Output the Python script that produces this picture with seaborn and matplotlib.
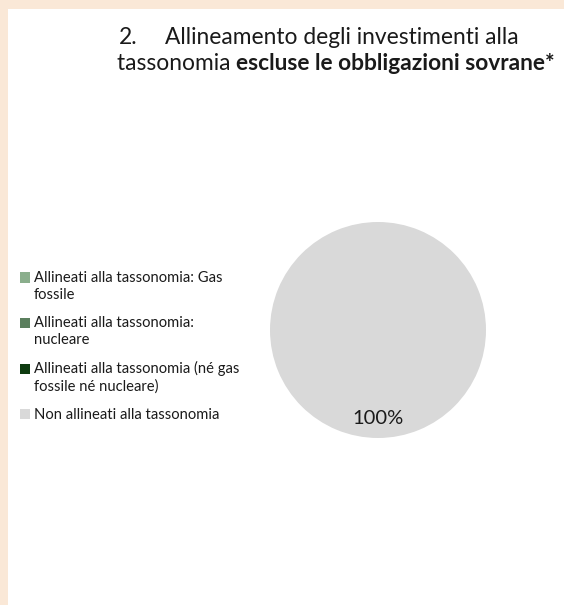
import matplotlib.pyplot as plt
import matplotlib.patches as mpatches
from matplotlib.legend_handler import HandlerPatch
import seaborn as sns

# data
labels = [
    "Allineati alla tassonomia: Gas\nfossile",
    "Allineati alla tassonomia:\nnucleare",
    "Allineati alla tassonomia (né gas\nfossile né nucleare)",
    "Non allineati alla tassonomia",
]
values = [0, 0, 0, 100]
colors = ["#8AAE8C", "#5B7F5E", "#0E3B10", "#D9D9D9"]

title_num = "2."
title_line1 = "Allineamento degli investimenti alla"
title_line2_a = "tassonomia "
title_line2_b = "escluse le obbligazioni sovrane*"

sns.set_style("white")
plt.rcParams['font.family'] = ['Lato', 'DejaVu Sans']

W, H = 564, 605
fig = plt.figure(figsize=(W / 100, H / 100), dpi=100)
fig.patch.set_facecolor("#FAE8D7")
# white panel with peach strip on left and top
fig.patches.append(mpatches.Rectangle((8 / W, 0), 1, 1 - 9 / H, transform=fig.transFigure,
                                      facecolor="white", edgecolor="none", zorder=-10))

# pie
ax = fig.add_axes([270 / W, (H - 438) / H, 216 / W, 216 / H])
ax.set_zorder(1)
wedges, texts, autotexts = ax.pie(
    values, colors=colors, startangle=90, counterclock=True,
    autopct=lambda p: f"{p:.0f}%" if p > 0 else "",
    pctdistance=0.815, wedgeprops=dict(linewidth=0),
    textprops=dict(fontsize=14.5, color="#1a1a1a"))
ax.set_xlim(-1, 1)
ax.set_ylim(-1, 1)
ax.set_aspect("equal")
ax.axis("off")


# square marker aligned with the first text line of a wrapped label
def first_line_square(shift):
    def make(legend, orig_handle, xdescent, ydescent, width, height, fontsize):
        return mpatches.Rectangle((-xdescent, -ydescent + shift), width, height)
    return HandlerPatch(patch_func=make)


handler_map = {w: first_line_square(6.5 if "\n" in lab else 0)
               for w, lab in zip(wedges, labels)}

# legend
leg = fig.legend(wedges, labels, loc="upper left", bbox_to_anchor=(20 / W, 1 - 271 / H),
                 frameon=False, fontsize=10.6, borderpad=0, borderaxespad=0,
                 handlelength=0.7, handleheight=0.7, handletextpad=0.25,
                 labelspacing=0.99, handler_map=handler_map)
for t in leg.get_texts():
    t.set_linespacing(1.24)
    t.set_color("#1a1a1a")

# title
fs = 16.4
fig.text(119 / W, 1 - 44 / H, title_num, fontsize=fs, color="#1a1a1a", va="baseline")
fig.text(165 / W, 1 - 44 / H, title_line1, fontsize=fs, color="#1a1a1a", va="baseline")
t1 = fig.text(117 / W, 1 - 70 / H, title_line2_a, fontsize=fs, color="#1a1a1a", va="baseline")
fig.canvas.draw()
bb = t1.get_window_extent(renderer=fig.canvas.get_renderer())
fig.text(bb.x1 / W, 1 - 70 / H, title_line2_b, fontsize=fs, fontweight="bold",
         color="#1a1a1a", va="baseline")

fig.savefig("out.png", dpi=100)
